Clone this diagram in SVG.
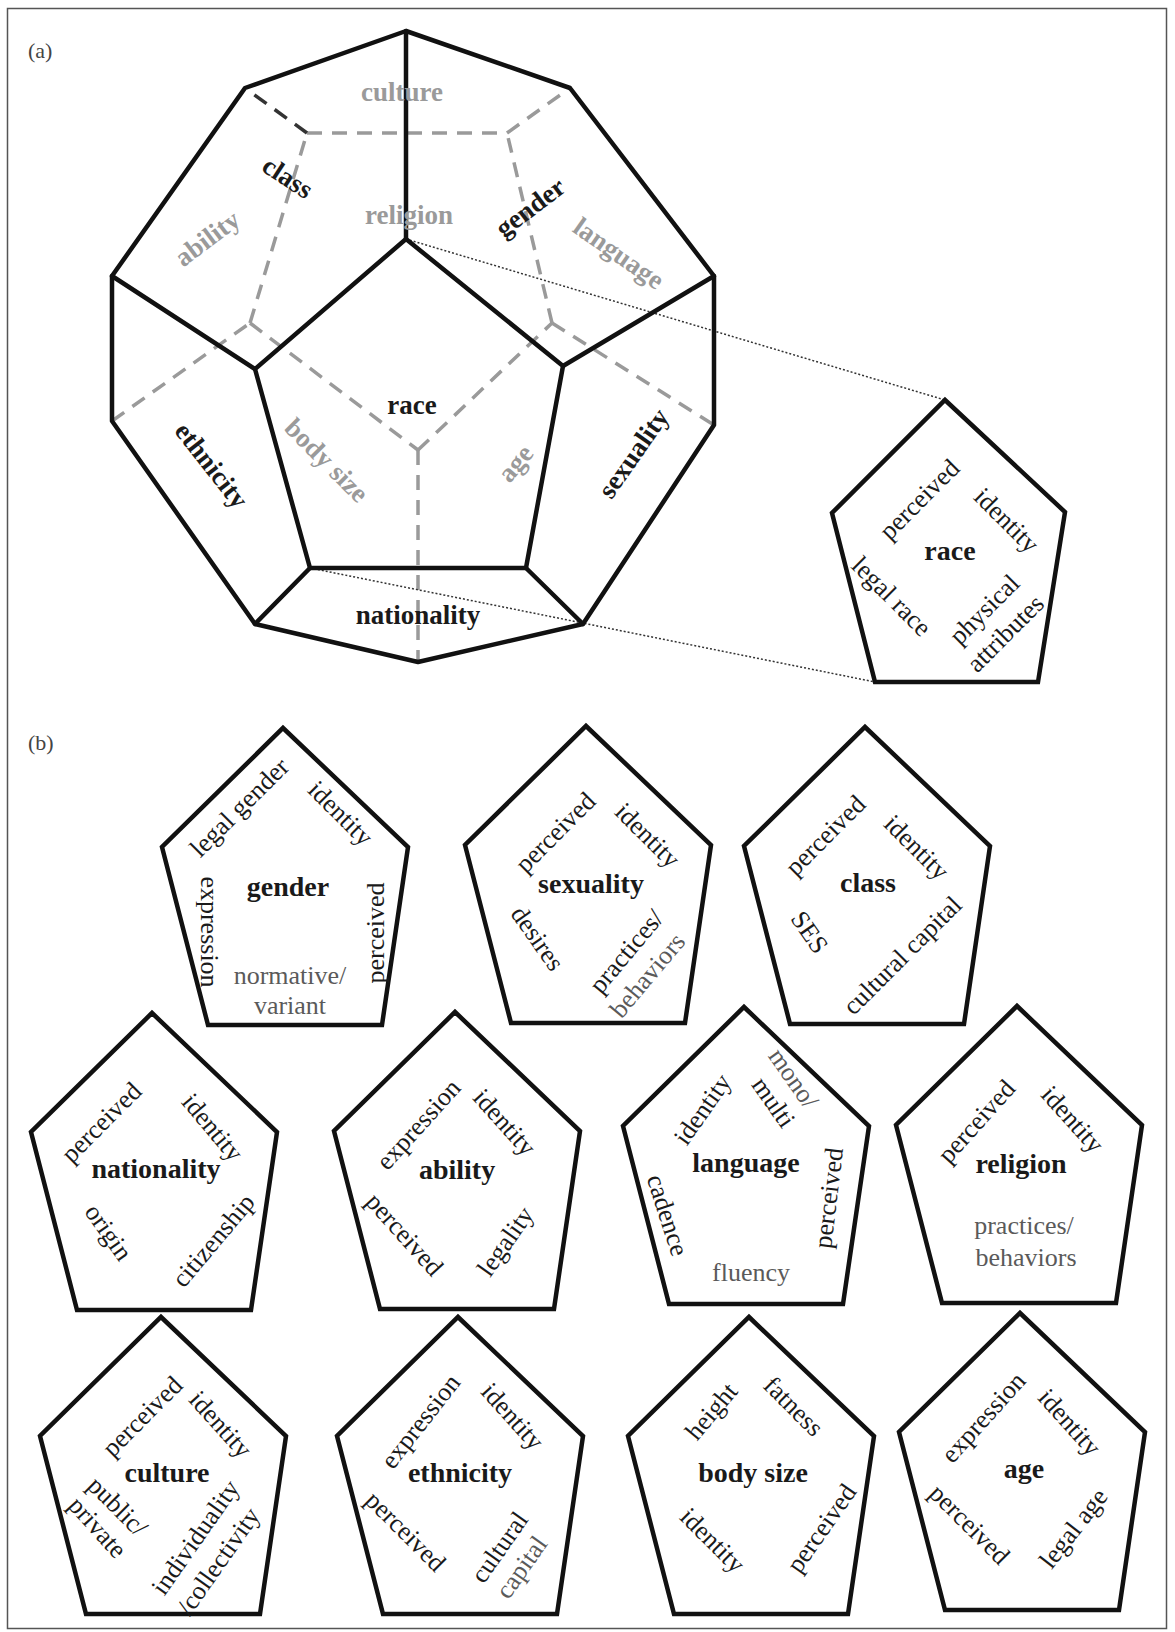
<svg xmlns="http://www.w3.org/2000/svg" width="1175" height="1632" viewBox="0 0 1175 1632">
<style>
.frame{fill:none;stroke:#555;stroke-width:1.5}
.edge{fill:none;stroke:#111;stroke-width:4.5;stroke-linejoin:round;stroke-linecap:round}
.hid{fill:none;stroke:#9a9a9a;stroke-width:3.5;stroke-dasharray:15 10}
.hidk{fill:none;stroke:#333;stroke-width:3.5;stroke-dasharray:15 10}
.dot{fill:none;stroke:#333;stroke-width:1.5;stroke-dasharray:2 2}
.pent{fill:none;stroke:#111;stroke-width:4.5;stroke-linejoin:miter}
text{font-family:"Liberation Serif","Times New Roman",serif;text-anchor:middle}
.dl{font-weight:bold;font-size:27px}
.dk{fill:#1a1a1a}
.gr{fill:#9a9a9a}
.lbl{font-size:26px;fill:#1a1a1a}
.sub{font-size:26px;fill:#5a5a5a}
.main{font-weight:bold;font-size:28px;fill:#1a1a1a}
.tag{font-size:22px;fill:#444;text-anchor:start}
</style>
<defs>
<path id="pb" d="M0,0 L125,119 L99,297 L-75,297 L-121,119 Z"/>
</defs>
<rect class="frame" x="7.5" y="8.5" width="1159" height="1620"/>
<text class="tag" x="28" y="58">(a)</text>
<text class="tag" x="28" y="750">(b)</text>

<g id="connectors">
<g id="hidden-edges">
<line class="hid" x1="112" y1="421" x2="250" y2="323"/>
<line class="hid" x1="250" y1="323" x2="418" y2="450"/>
<line class="hid" x1="418" y1="450" x2="418" y2="662"/>
<line class="hid" x1="418" y1="450" x2="552" y2="323"/>
<line class="hid" x1="552" y1="323" x2="714" y2="425"/>
<line class="hid" x1="250" y1="323" x2="307" y2="133"/>
<line class="hid" x1="552" y1="323" x2="507" y2="133"/>
<line class="hid" x1="307" y1="133" x2="507" y2="133"/>
<line class="hidk" x1="307" y1="133" x2="245" y2="88"/>
<line class="hid" x1="507" y1="133" x2="570" y2="88"/>
</g>
<line class="dot" x1="406" y1="239" x2="945" y2="400"/>
<line class="dot" x1="310" y1="568" x2="875" y2="682"/>
</g>

<g id="dodecahedron">
<polygon class="edge" points="406,31 570,88 714,276 714,425 583,624 418,662 255,624 112,421 112,276 245,88"/>
<polygon class="edge" points="406,239 563,366 526,568 310,568 255,369"/>
<line class="edge" x1="406" y1="239" x2="406" y2="31"/>
<line class="edge" x1="563" y1="366" x2="714" y2="276"/>
<line class="edge" x1="526" y1="568" x2="583" y2="624"/>
<line class="edge" x1="310" y1="568" x2="255" y2="624"/>
<line class="edge" x1="255" y1="369" x2="112" y2="276"/>
<text class="dl gr" x="402" y="92" dy="0.35em">culture</text>
<text class="dl gr" x="409" y="215" dy="0.35em">religion</text>
<text class="dl dk" transform="translate(288,177) rotate(33)" dy="0.35em">class</text>
<text class="dl gr" transform="translate(207,238) rotate(-37)" dy="0.35em">ability</text>
<text class="dl dk" transform="translate(530,207) rotate(-37)" dy="0.35em">gender</text>
<text class="dl gr" transform="translate(619,253) rotate(35)" dy="0.35em">language</text>
<text class="dl dk" x="412" y="405" dy="0.35em">race</text>
<text class="dl dk" transform="translate(212,465) rotate(52)" dy="0.35em">ethnicity</text>
<text class="dl gr" transform="translate(327,460) rotate(45)" dy="0.35em">body size</text>
<text class="dl gr" transform="translate(515,463) rotate(-50)" dy="0.35em">age</text>
<text class="dl dk" transform="translate(633,453) rotate(-55)" dy="0.35em">sexuality</text>
<text class="dl dk" x="418" y="615" dy="0.35em">nationality</text>
</g>

<g id="race-inset" transform="translate(945,400)">
<path class="pent" d="M0,0 L120,112 L93,282 L-70,282 L-113,113 Z"/>
<text class="lbl" transform="translate(-26,99) rotate(-45)" dy="0.35em">perceived</text>
<text class="lbl" transform="translate(62,120) rotate(45)" dy="0.35em">identity</text>
<text class="main" x="5" y="150" dy="0.35em">race</text>
<text class="lbl" transform="translate(-53,196) rotate(45)" dy="0.35em">legal race</text>
<text class="lbl" transform="translate(39,209) rotate(-45)" dy="0.35em">physical</text>
<text class="lbl" transform="translate(60,233) rotate(-45)" dy="0.35em">attributes</text>
</g>

<g id="gender" transform="translate(283,728)">
<use href="#pb" class="pent"/>
<text class="lbl" transform="translate(-44,79) rotate(-45)" dy="0.35em">legal gender</text>
<text class="lbl" transform="translate(58,85) rotate(45)" dy="0.35em">identity</text>
<text class="main" x="5" y="158" dy="0.35em">gender</text>
<text class="lbl" transform="translate(-73,204) rotate(90)" dy="0.35em">expression</text>
<text class="lbl" transform="translate(92,205) rotate(-90)" dy="0.35em">perceived</text>
<text class="sub" x="7" y="247" dy="0.35em">normative/</text>
<text class="sub" x="7" y="277" dy="0.35em">variant</text>
</g>

<g id="sexuality" transform="translate(586,726)">
<use href="#pb" class="pent"/>
<text class="lbl" transform="translate(-31,106) rotate(-45)" dy="0.35em">perceived</text>
<text class="lbl" transform="translate(62,109) rotate(45)" dy="0.35em">identity</text>
<text class="main" x="5" y="157" dy="0.35em">sexuality</text>
<text class="lbl" transform="translate(-48,212) rotate(55)" dy="0.35em">desires</text>
<text class="lbl" transform="translate(40,225) rotate(-50)" dy="0.35em">practices/</text>
<text class="sub" transform="translate(61,249) rotate(-50)" dy="0.35em">behaviors</text>
</g>

<g id="class" transform="translate(865,727)">
<use href="#pb" class="pent"/>
<text class="lbl" transform="translate(-40,108) rotate(-45)" dy="0.35em">perceived</text>
<text class="lbl" transform="translate(52,120) rotate(45)" dy="0.35em">identity</text>
<text class="main" x="3" y="155" dy="0.35em">class</text>
<text class="lbl" transform="translate(-55,205) rotate(55)" dy="0.35em">SES</text>
<text class="lbl" transform="translate(37,228) rotate(-45)" dy="0.35em">cultural capital</text>
</g>

<g id="nationality" transform="translate(152,1013)">
<use href="#pb" class="pent"/>
<text class="lbl" transform="translate(-51,109) rotate(-45)" dy="0.35em">perceived</text>
<text class="lbl" transform="translate(61,114) rotate(50)" dy="0.35em">identity</text>
<text class="main" x="4" y="155" dy="0.35em">nationality</text>
<text class="lbl" transform="translate(-43,219) rotate(55)" dy="0.35em">origin</text>
<text class="lbl" transform="translate(61,227) rotate(-50)" dy="0.35em">citizenship</text>
</g>

<g id="ability" transform="translate(455,1012)">
<use href="#pb" class="pent"/>
<text class="lbl" transform="translate(-37,112) rotate(-48)" dy="0.35em">expression</text>
<text class="lbl" transform="translate(50,110) rotate(48)" dy="0.35em">identity</text>
<text class="main" x="2" y="157" dy="0.35em">ability</text>
<text class="lbl" transform="translate(-50,222) rotate(48)" dy="0.35em">perceived</text>
<text class="lbl" transform="translate(50,229) rotate(-55)" dy="0.35em">legality</text>
</g>

<g id="language" transform="translate(744,1007)">
<use href="#pb" class="pent"/>
<text class="lbl" transform="translate(-42,102) rotate(-55)" dy="0.35em">identity</text>
<text class="sub" transform="translate(50,71) rotate(55)" dy="0.35em">mono/</text>
<text class="lbl" transform="translate(30,95) rotate(55)" dy="0.35em">multi</text>
<text class="main" x="2" y="155" dy="0.35em">language</text>
<text class="lbl" transform="translate(-76,208) rotate(72)" dy="0.35em">cadence</text>
<text class="lbl" transform="translate(84,191) rotate(-83)" dy="0.35em">perceived</text>
<text class="sub" x="7" y="265" dy="0.35em">fluency</text>
</g>

<g id="religion" transform="translate(1017,1006)">
<use href="#pb" class="pent"/>
<text class="lbl" transform="translate(-41,115) rotate(-48)" dy="0.35em">perceived</text>
<text class="lbl" transform="translate(56,113) rotate(48)" dy="0.35em">identity</text>
<text class="main" x="4" y="157" dy="0.35em">religion</text>
<text class="sub" x="7" y="219" dy="0.35em">practices/</text>
<text class="sub" x="9" y="251" dy="0.35em">behaviors</text>
</g>

<g id="culture" transform="translate(161,1317)">
<use href="#pb" class="pent"/>
<text class="lbl" transform="translate(-19,99) rotate(-45)" dy="0.35em">perceived</text>
<text class="lbl" transform="translate(60,107) rotate(48)" dy="0.35em">identity</text>
<text class="main" x="6" y="155" dy="0.35em">culture</text>
<text class="lbl" transform="translate(-43,189) rotate(45)" dy="0.35em">public/</text>
<text class="lbl" transform="translate(-63,210) rotate(48)" dy="0.35em">private</text>
<text class="lbl" transform="translate(34,220) rotate(-55)" dy="0.35em">individuality</text>
<text class="lbl" transform="translate(57,244) rotate(-55)" dy="0.35em">/collectivity</text>
</g>

<g id="ethnicity" transform="translate(458,1317)">
<use href="#pb" class="pent"/>
<text class="lbl" transform="translate(-38,104) rotate(-52)" dy="0.35em">expression</text>
<text class="lbl" transform="translate(55,99) rotate(48)" dy="0.35em">identity</text>
<text class="main" x="2" y="155" dy="0.35em">ethnicity</text>
<text class="lbl" transform="translate(-52,214) rotate(45)" dy="0.35em">perceived</text>
<text class="lbl" transform="translate(41,230) rotate(-55)" dy="0.35em">cultural</text>
<text class="sub" transform="translate(63,250) rotate(-55)" dy="0.35em">capital</text>
</g>

<g id="body-size" transform="translate(749,1317)">
<use href="#pb" class="pent"/>
<text class="lbl" transform="translate(-38,94) rotate(-50)" dy="0.35em">height</text>
<text class="lbl" transform="translate(45,89) rotate(45)" dy="0.35em">fatness</text>
<text class="main" x="4" y="155" dy="0.35em">body size</text>
<text class="lbl" transform="translate(-36,223) rotate(45)" dy="0.35em">identity</text>
<text class="lbl" transform="translate(72,211) rotate(-55)" dy="0.35em">perceived</text>
</g>

<g id="age" transform="translate(1020,1313)">
<use href="#pb" class="pent"/>
<text class="lbl" transform="translate(-37,104) rotate(-48)" dy="0.35em">expression</text>
<text class="lbl" transform="translate(50,109) rotate(48)" dy="0.35em">identity</text>
<text class="main" x="4" y="155" dy="0.35em">age</text>
<text class="lbl" transform="translate(-50,211) rotate(45)" dy="0.35em">perceived</text>
<text class="lbl" transform="translate(53,215) rotate(-52)" dy="0.35em">legal age</text>
</g>
</svg>
